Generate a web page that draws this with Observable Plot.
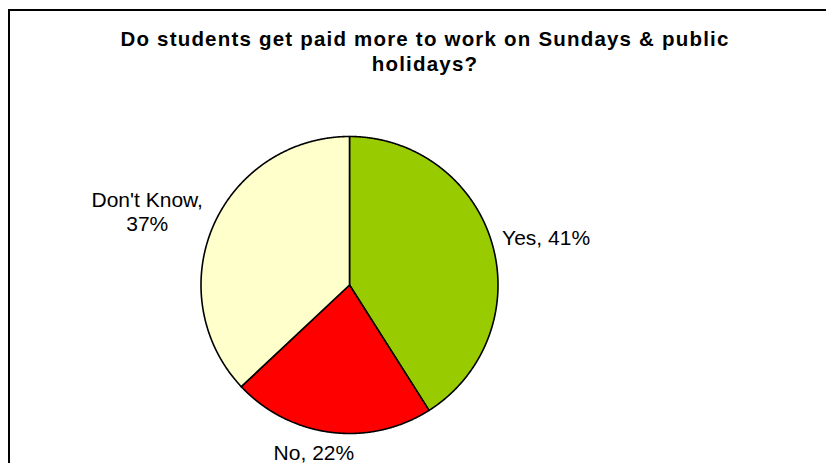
<!DOCTYPE html>
<html>
<head>
<meta charset="utf-8">
<script src="https://cdn.jsdelivr.net/npm/d3@7"></script>
<script src="https://cdn.jsdelivr.net/npm/@observablehq/plot@0.6"></script>
<style>
  html, body { margin: 0; padding: 0; background: #fff; overflow: hidden; width: 826px; height: 463px; }
  #wrap { position: relative; width: 826px; height: 463px; }
  #frame { position: absolute; left: 8px; top: 9px; width: 900px; height: 600px; border: 2px solid #000; box-sizing: border-box; pointer-events: none; }
  #title { position: absolute; left: 0; top: 26px; width: 850px; text-align: center;
           font-family: "Liberation Sans", Arial, sans-serif; font-weight: bold; font-size: 20.5px;
           line-height: 25px; letter-spacing: 1.2px; color: #000; z-index: 2; }
  #chart { position: absolute; left: 0; top: 0; }
</style>
</head>
<body>
<div id="wrap">
  <div id="chart"></div>
  <div id="frame"></div>
  <div id="title">Do students get paid more to work on Sundays &amp; public<br>holidays?</div>
</div>
<script>
const categories = ["Yes", "No", "Don't Know"];
const values = [41, 22, 37];
const colors = ["#99CC00", "#FF0000", "#FFFFCC"];
const labels = ["Yes, 41%", "No, 22%", "Don't Know,\n37%"];

const total = d3.sum(values);
// Build slice outlines (clockwise from 12 o'clock) in unit-circle data coordinates
const slices = [];
const mids = [];
let acc = 0;
categories.forEach((cat, i) => {
  const a0 = acc / total * 2 * Math.PI;
  acc += values[i];
  const a1 = acc / total * 2 * Math.PI;
  const n = Math.max(2, Math.ceil((a1 - a0) / (Math.PI / 720)));
  slices.push({cat, color: colors[i], x: 0, y: 0});
  for (let k = 0; k <= n; k++) {
    const a = a0 + (a1 - a0) * k / n;
    slices.push({cat, color: colors[i], x: Math.sin(a), y: Math.cos(a)});
  }
  slices.push({cat, color: colors[i], x: 0, y: 0});
  const am = (a0 + a1) / 2;
  mids.push({cat, label: labels[i], x: Math.sin(am), y: Math.cos(am)});
});

const font = "Liberation Sans, Arial, sans-serif";
const textMark = (cat, opts) => Plot.text(mids.filter(d => d.cat === cat), {
  x: "x", y: "y", text: "label", fontSize: 21, fontFamily: font, fill: "#000",
  lineAnchor: "middle", lineHeight: 1.15, ...opts
});

const chart = Plot.plot({
  width: 826,
  height: 463,
  margin: 0,
  style: {background: "transparent", overflow: "visible"},
  x: {domain: [-1, 1], range: [200.5, 497.5], axis: null},
  y: {domain: [-1, 1], range: [433, 136], axis: null},
  marks: [
    ...categories.map((cat, i) => Plot.line(slices.filter(d => d.cat === cat), {
      x: "x", y: "y", fill: colors[i], stroke: "#000", strokeWidth: 1.6,
      strokeLinejoin: "round", curve: "linear"
    })),
    textMark("Yes", {textAnchor: "start", dx: 10, dy: -6}),
    textMark("No", {textAnchor: "middle", dx: -17, dy: 20}),
    textMark("Don't Know", {textAnchor: "middle", dx: -66, dy: -15})
  ]
});
document.getElementById("chart").appendChild(chart);
</script>
</body>
</html>
